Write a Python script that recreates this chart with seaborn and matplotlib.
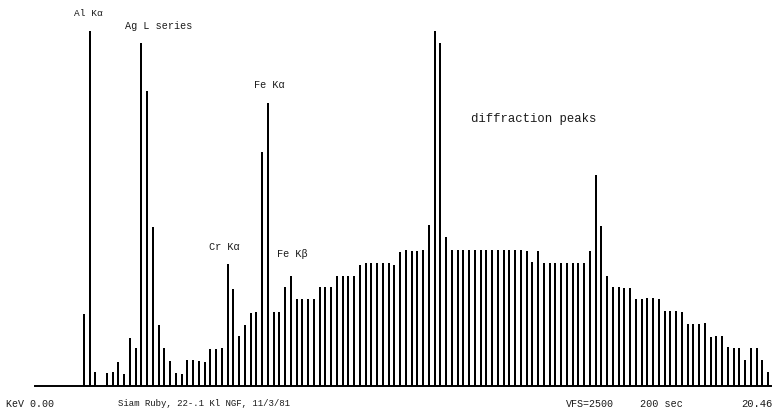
import matplotlib
matplotlib.use("Agg")
import matplotlib.pyplot as plt
import seaborn as sns
import pandas as pd

# EDS spectrum, 128 channels of 0.16 keV (0 - 20.48 keV)
channels = list(range(128))
counts = [
    0, 0, 0, 0, 0, 0, 0, 0,
    72, 355, 14, 0, 13, 14, 24, 12, 48, 38,          # ch 8-17
    343, 295, 159, 61, 38, 25, 13, 12, 26, 26,       # ch 18-27
    25, 24, 37, 37, 38, 122, 97, 50, 61, 73,         # ch 28-37
    74, 234, 283, 74, 74, 99, 110, 87, 87, 87,       # ch 38-47
    87, 99, 99, 99, 110, 110, 110, 110, 121, 123,    # ch 48-57
    123, 123, 123, 123, 121, 134, 136, 135, 135, 136,  # ch 58-67
    161, 355, 343, 149, 136, 136, 136, 136, 136, 136,  # ch 68-77
    136, 136, 136, 136, 136, 136, 136, 135, 124, 135,  # ch 78-87
    123, 123, 123, 123, 123, 123, 123, 123, 135, 211,  # ch 88-97
    160, 110, 99, 99, 98, 98, 87, 87, 88, 88,          # ch 98-107
    87, 75, 75, 75, 74, 62, 62, 62, 63, 49,            # ch 108-117
    50, 50, 39, 38, 38, 26, 38, 38, 26, 14,            # ch 118-127
]

peak_labels = ["Al Kα", "Ag L series", "Fe Kα", "Cr Kα", "Fe Kβ", "diffraction peaks"]
footer_labels = ["KeV 0.00", "Siam Ruby, 22-.1 Kl NGF, 11/3/81", "VFS=2500", "200 sec", "20.46"]

df = pd.DataFrame({"channel": channels, "counts": counts})

sns.set_theme(style="white")
plt.rcParams["font.family"] = ["Liberation Mono", "DejaVu Sans Mono"]

W, H = 779, 416
fig = plt.figure(figsize=(W / 100, H / 100), dpi=100)
fig.patch.set_facecolor("white")
ax = fig.add_axes([35 / W, (H - 385.5) / H, 736 / W, 385.5 / H])

sns.barplot(data=df, x="channel", y="counts", color="black", width=0.33,
            errorbar=None, ax=ax, saturation=1, edgecolor="none")

ax.set_xlim(-0.5, 127.5)
ax.set_ylim(0, 385.5)
ax.set_facecolor("white")
ax.set_xticks([])
ax.set_yticks([])
ax.set_xlabel("")
ax.set_ylabel("")
for s in ["left", "top", "right"]:
    ax.spines[s].set_visible(False)
ax.spines["bottom"].set_visible(True)
ax.spines["bottom"].set_color("black")
ax.spines["bottom"].set_linewidth(1.4)

tc = "#1a1a1a"
def ftext(px, py, s, size):
    fig.text(px / W, 1 - py / H, s, fontsize=size, color=tc, ha="left", va="center")

ftext(74, 14, peak_labels[0], 6.8)
ftext(125, 26, peak_labels[1], 7.3)
ftext(254, 85, peak_labels[2], 7.4)
ftext(209, 247, peak_labels[3], 7.4)
ftext(277, 254, peak_labels[4], 7.4)
ftext(471, 119, peak_labels[5], 8.8)

ftext(6, 404, footer_labels[0], 7.2)
ftext(118, 404, footer_labels[1], 6.5)
ftext(566, 404, footer_labels[2], 7.2)
ftext(640, 404, footer_labels[3], 7.3)
ftext(741, 404, footer_labels[4], 7.6)

fig.savefig("out.png", dpi=100, facecolor="white")
